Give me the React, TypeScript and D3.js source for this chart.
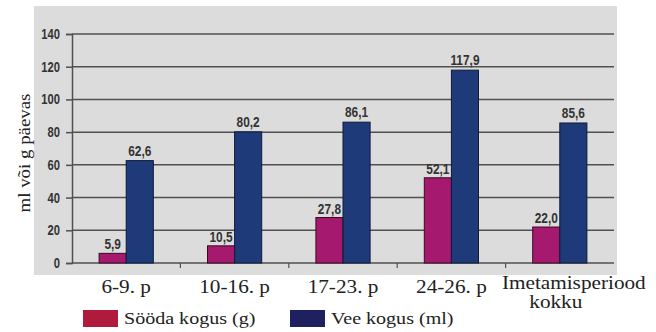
import React, { useRef, useEffect } from 'react';
import * as d3 from 'd3';

// chart data
const categories = ['6-9. p', '10-16. p', '17-23. p', '24-26. p', 'Imetamisperiood kokku'];
const feedValues = [5.9, 10.5, 27.8, 52.1, 22.0];
const waterValues = [62.6, 80.2, 86.1, 117.9, 85.6];
const yTicks = [0, 20, 40, 60, 80, 100, 120, 140];
const seriesNames = ['Sööda kogus (g)', 'Vee kogus (ml)'];

const fmt = (v: number) => v.toFixed(1).replace('.', ',');

// the reference text is a Times-like face, stretched sideways
const SERIF = 'Liberation Serif, DejaVu Serif, serif';
const STRETCH = 1.18;
const NARROW = 'Liberation Sans, Arial, sans-serif';

const App: React.FC = () => {
  const ref = useRef<SVGSVGElement>(null);

  useEffect(() => {
    if (!ref.current) return;
    const svg = d3.select(ref.current);
    svg.selectAll('*').remove();

    const width = 656;
    const height = 332;
    const margin = { top: 34, right: 42, bottom: 69, left: 72 };
    const plotW = width - margin.left - margin.right;
    const plotH = height - margin.top - margin.bottom;

    // gray panel behind the plot
    svg.append('rect')
      .attr('x', 34).attr('y', 6)
      .attr('width', 583).attr('height', 269)
      .attr('fill', '#dcdcdc');

    const x = d3.scaleBand<string>()
      .domain(categories)
      .range([0, plotW]);

    const inner = d3.scaleBand<string>()
      .domain(['feed', 'water'])
      .range([x.bandwidth() * 0.25, x.bandwidth() * 0.75]);

    const y = d3.scaleLinear()
      .domain([0, 140])
      .range([plotH, 0]);

    const g = svg.append('g')
      .attr('transform', `translate(${margin.left},${margin.top})`);

    // gridlines
    g.selectAll('.grid')
      .data(yTicks.filter(t => t > 0))
      .enter().append('line')
      .attr('x1', 0).attr('x2', plotW)
      .attr('y1', d => y(d)).attr('y2', d => y(d))
      .attr('stroke', '#505050')
      .attr('stroke-width', 1.5);

    // y axis (condensed-looking labels via horizontal squeeze)
    const yAxis = d3.axisLeft(y).tickValues(yTicks).tickSize(6).tickPadding(4);
    const yg = g.append('g').call(yAxis);
    yg.attr('font-family', null).attr('font-size', null);
    yg.select('.domain').attr('stroke', '#505050').attr('stroke-width', 1.5);
    yg.selectAll('.tick line').attr('stroke', '#505050').attr('stroke-width', 1.5);
    yg.selectAll('.tick text')
      .attr('fill', '#333')
      .attr('font-family', NARROW)
      .attr('font-weight', 'bold')
      .attr('font-size', 14)
      .attr('x', -12 / 0.8)
      .attr('transform', 'scale(0.8,1)');

    // bottom axis line and category boundary ticks
    g.append('line')
      .attr('x1', 0).attr('x2', plotW)
      .attr('y1', y(0)).attr('y2', y(0))
      .attr('stroke', '#505050').attr('stroke-width', 1.5);
    g.selectAll('.xtick')
      .data(categories.slice(1))
      .enter().append('line')
      .attr('x1', d => x(d) as number).attr('x2', d => x(d) as number)
      .attr('y1', y(0)).attr('y2', y(0) + 5)
      .attr('stroke', '#505050').attr('stroke-width', 1.2);

    const groups = g.selectAll('.cat')
      .data(categories)
      .enter().append('g')
      .attr('transform', d => `translate(${x(d)},0)`);

    const colors = { feed: '#a51a6e', water: '#1f3a78' };

    groups.append('rect')
      .attr('x', inner('feed') as number)
      .attr('y', (_, i) => y(feedValues[i]))
      .attr('width', inner.bandwidth())
      .attr('height', (_, i) => y(0) - y(feedValues[i]))
      .attr('fill', colors.feed)
      .attr('stroke', '#3a0a25').attr('stroke-width', 1);

    groups.append('rect')
      .attr('x', inner('water') as number)
      .attr('y', (_, i) => y(waterValues[i]))
      .attr('width', inner.bandwidth())
      .attr('height', (_, i) => y(0) - y(waterValues[i]))
      .attr('fill', colors.water)
      .attr('stroke', '#0d1a3a').attr('stroke-width', 1);

    const squeeze = 0.85;
    groups.append('text')
      .attr('transform', (_, i) =>
        `translate(${(inner('feed') as number) + inner.bandwidth() / 2},${y(feedValues[i]) - 4}) scale(${squeeze},1)`)
      .attr('text-anchor', 'middle')
      .attr('font-family', NARROW).attr('font-weight', 'bold').attr('font-size', 14)
      .attr('fill', '#333')
      .text((_, i) => fmt(feedValues[i]));

    groups.append('text')
      .attr('transform', (_, i) =>
        `translate(${(inner('water') as number) + inner.bandwidth() / 2},${y(waterValues[i]) - 5}) scale(${squeeze},1)`)
      .attr('text-anchor', 'middle')
      .attr('font-family', NARROW).attr('font-weight', 'bold').attr('font-size', 14)
      .attr('fill', '#333')
      .text((_, i) => fmt(waterValues[i]));

    // category labels (serif, last one wraps)
    const cx = x.bandwidth() / 2;
    const serifText = (sel: d3.Selection<any, any, any, any>, tx: number, ty: number, s: string, size: number) =>
      sel.append('text')
        .attr('transform', `translate(${tx},${ty}) scale(${STRETCH},1)`)
        .attr('text-anchor', 'middle')
        .attr('fill', '#222')
        .attr('font-family', SERIF)
        .attr('font-size', size)
        .text(s);

    groups.each(function (d) {
      const sel = d3.select(this);
      if (d === 'Imetamisperiood kokku') {
        serifText(sel, cx + 14, plotH + 26, 'Imetamisperiood', 18);
        serifText(sel, cx - 4, plotH + 45, 'kokku', 18);
      } else {
        serifText(sel, cx, plotH + 30, d, 18);
      }
    });

    // y axis title
    svg.append('text')
      .attr('transform', `translate(30,153) rotate(-90) scale(${STRETCH},1)`)
      .attr('text-anchor', 'middle')
      .attr('fill', '#222')
      .attr('font-family', SERIF)
      .attr('font-size', 16)
      .text('ml või g päevas');

    // legend
    const legendColors = ['#b01a3c', '#1f2060'];
    const legendX = [83, 290];
    seriesNames.forEach((name, i) => {
      svg.append('rect')
        .attr('x', legendX[i]).attr('y', 310)
        .attr('width', 35).attr('height', 17)
        .attr('fill', legendColors[i]);
      svg.append('text')
        .attr('transform', `translate(${legendX[i] + 41},324) scale(${STRETCH},1)`)
        .attr('fill', '#222')
        .attr('font-family', SERIF)
        .attr('font-size', 17)
        .text(name);
    });
  }, []);

  return (
    <svg ref={ref} width={656} height={332}
      style={{ position: 'absolute', left: 0, top: 0, background: '#fff' }} />
  );
};

export default App;
